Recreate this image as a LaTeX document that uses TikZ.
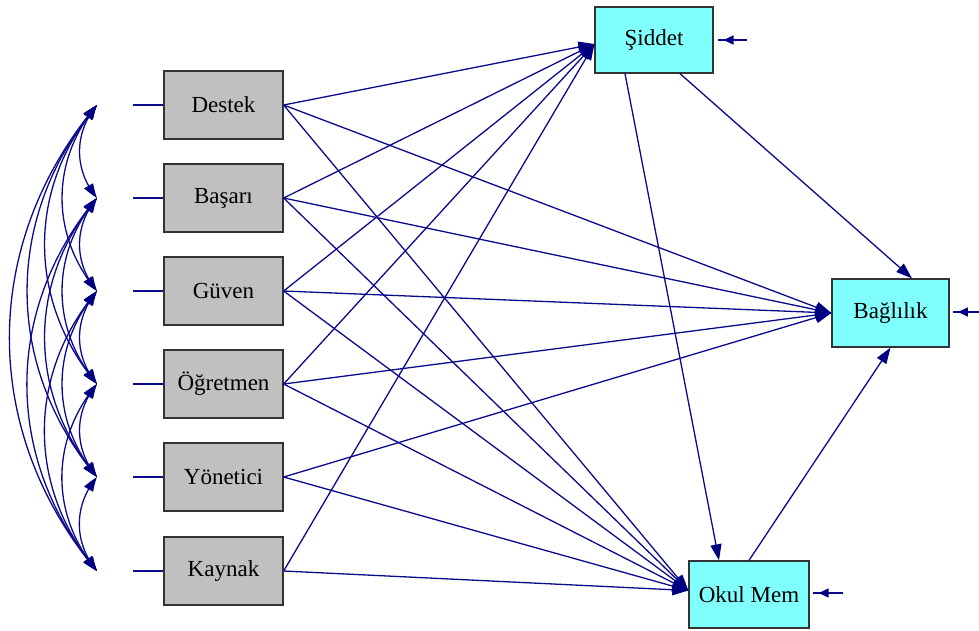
\documentclass[tikz,border=0pt]{standalone}
\usepackage{fontspec}
\setmainfont{Liberation Serif}
\usetikzlibrary{arrows.meta,bending,decorations.markings}
\definecolor{ln}{RGB}{10,10,140}
\definecolor{hd}{RGB}{0,0,128}
\definecolor{gbox}{RGB}{192,192,192}
\definecolor{cbox}{RGB}{128,255,255}
\begin{document}
\begin{tikzpicture}[x=1pt,y=-1pt,
  box/.style={draw=black!80, line width=1.3pt, minimum width=119pt, minimum height=68pt, inner sep=0pt, font=\fontsize{23}{26}\selectfont},
  exo/.style={box, fill=gbox},
  endo/.style={box, fill=cbox},
  pth/.style={draw=ln, line width=1.3pt, -{Triangle[length=16pt,width=11pt,color=hd]}},
  corr/.style={draw=ln, line width=1.3pt, {Triangle[length=15pt,width=10pt,bend,color=hd]}-{Triangle[length=15pt,width=10pt,bend,color=hd]}},
  stub/.style={draw=ln, line width=1.4pt},
  errarr/.style={draw=ln, line width=1.5pt, postaction={decorate},
    decoration={markings, mark=at position 0.8 with {\arrow{Triangle[length=10pt,width=9pt,color=hd]}}}}]
\useasboundingbox (0,0) rectangle (979,630);

% exogenous boxes
\node[exo] (destek)   at (223.5,105) {Destek};
\node[exo] (basari)   at (223.5,198) {Başarı};
\node[exo] (guven)    at (223.5,291) {Güven};
\node[exo] (ogretmen) at (223.5,384) {Öğretmen};
\node[exo] (yonetici) at (223.5,477) {Yönetici};
\node[exo] (kaynak)   at (223.5,571) {Kaynak};

% endogenous boxes
\node[endo, minimum width=118pt, minimum height=66pt] (siddet) at (654,40) {Şiddet};
\node[endo, minimum width=117pt] (baglilik) at (890.5,313) {Bağlılık};
\node[endo, minimum width=120pt, minimum height=67pt] (okul) at (749,594.5) {Okul Mem};

% correlation tips and stubs
\foreach \n/\yy in {1/105,2/198,3/291,4/384,5/477,6/571}{
  \coordinate (p\n) at (97,\yy);
  \coordinate (s\n) at (133,\yy);
}
\draw[stub] (s1) -- (destek.west);
\draw[stub] (s2) -- (basari.west);
\draw[stub] (s3) -- (guven.west);
\draw[stub] (s4) -- (ogretmen.west);
\draw[stub] (s5) -- (yonetici.west);
\draw[stub] (s6) -- (kaynak.west);

\foreach \i/\j in {1/2,1/3,1/4,1/5,1/6,2/3,2/4,2/5,2/6,3/4,3/5,3/6,4/5,4/6,5/6}{
  \draw[corr] (p\i) to[bend right=40] (p\j);
}

% paths to Siddet
\foreach \s in {destek,basari,guven,ogretmen,kaynak}{
  \draw[pth] (\s.east) -- ([yshift=-4pt]siddet.west);
}
% paths to Baglilik
\foreach \s in {destek,basari,guven,ogretmen,yonetici}{
  \draw[pth] (\s.east) -- (baglilik.west);
}
% paths to Okul Mem
\foreach \s in {destek,basari,guven,ogretmen,yonetici,kaynak}{
  \draw[pth] (\s.east) -- ([yshift=4pt]okul.west);
}

% between endogenous
\draw[pth] ([xshift=-29pt]siddet.south) -- ([xshift=-30pt]okul.north);
\draw[pth] ([xshift=26pt]siddet.south) -- ([xshift=21.5pt]baglilik.north);
\draw[pth] (okul.north) -- (baglilik.south);

% error terms
\coordinate (eS) at (747,40);
\coordinate (eB) at (979,312);
\coordinate (eO) at (843,593);
\draw[errarr] (eS) -- ([xshift=4pt]siddet.east);
\draw[errarr] (eB) -- ([xshift=3pt,yshift=1pt]baglilik.east);
\draw[errarr] (eO) -- ([xshift=3pt,yshift=1.5pt]okul.east);
\end{tikzpicture}
\end{document}
